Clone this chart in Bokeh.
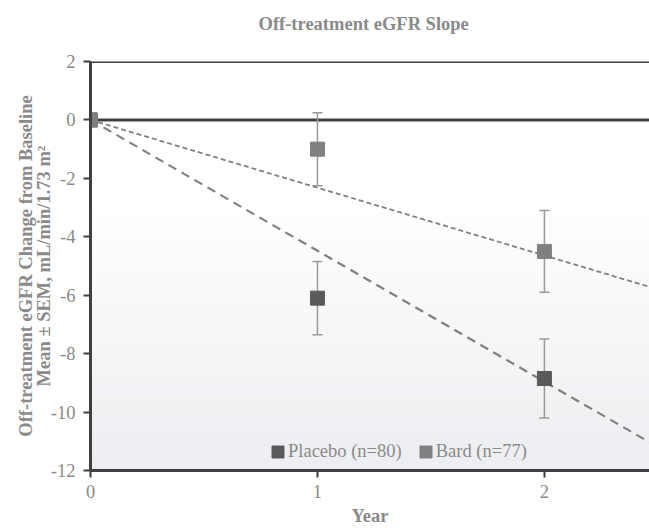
import numpy as np
from bokeh.plotting import figure
from bokeh.models import (ColumnDataSource, Whisker, TeeHead, Span, Title,
                          Legend, LegendItem, Range1d, FixedTicker,
                          PrintfTickFormatter)
from bokeh.embed import file_html
from bokeh.resources import INLINE

# ---- data -------------------------------------------------------------
years = [0, 1, 2]
placebo_mean = [0.0, -6.1, -8.85]
placebo_sem = [0.0, 1.25, 1.35]
bard_mean = [0.0, -1.0, -4.5]
bard_sem = [0.0, 1.25, 1.4]
placebo_slope = -4.48   # eGFR change per year
bard_slope = -2.32
placebo_label = "Placebo (n=80)"
bard_label = "Bard (n=77)"
y_ticks = [2, 0, -2, -4, -6, -8, -10, -12]
x_ticks = [0, 1, 2]

FONT = "Liberation Serif"
FS = "18.5px"
GREY_TXT = "#8a8a8a"
AXIS_DARK = "#404040"
PLACEBO_C = "#5a5a5a"
BARD_C = "#808080"
ERR_C = "#9a9a9a"

x_min, x_max = 0.0, 2.463
y_min, y_max = -12.0, 2.0

p = figure(width=649, height=530, output_backend="svg", toolbar_location=None,
           x_range=Range1d(x_min, x_max), y_range=Range1d(y_min, y_max),
           min_border_left=90, min_border_right=0, min_border_top=61,
           min_border_bottom=60)
p.outline_line_color = None
p.grid.visible = False
p.background_fill_color = "white"
p.border_fill_color = "white"

# soft vertical gradient in the lower part of the plot area
fade_top = -3.0
n_bands = 45
edges = np.linspace(fade_top, y_min, n_bands + 1)
t = np.linspace(0, 1, n_bands)
top_rgb = np.array([255, 255, 255])
bot_rgb = np.array([237, 238, 241])
cols = ["#%02x%02x%02x" % tuple((top_rgb + (bot_rgb - top_rgb) * tt).astype(int)) for tt in t]
p.quad(left=x_min, right=x_max, top=edges[:-1], bottom=edges[1:],
       fill_color=cols, line_color=cols, line_width=1, level="underlay")

# zero reference line and top border
p.add_layout(Span(location=0, dimension="width", line_color=AXIS_DARK,
                  line_width=3, level="underlay"))
p.add_layout(Span(location=y_max, dimension="width", line_color=AXIS_DARK,
                  line_width=3))

# error bars (mean +/- SEM)
def whiskers(mean, sem):
    src = ColumnDataSource(dict(
        x=years[1:],
        upper=[m + s for m, s in zip(mean[1:], sem[1:])],
        lower=[m - s for m, s in zip(mean[1:], sem[1:])]))
    w = Whisker(base="x", upper="upper", lower="lower", source=src,
                line_color=ERR_C, line_width=1.5, level="underlay",
                upper_head=TeeHead(size=10, line_color=ERR_C, line_width=1.5),
                lower_head=TeeHead(size=10, line_color=ERR_C, line_width=1.5))
    p.add_layout(w)

whiskers(placebo_mean, placebo_sem)
whiskers(bard_mean, bard_sem)

# slope lines from baseline
xs_line = np.array([x_min, x_max])
p.line(xs_line, placebo_slope * xs_line, line_color=BARD_C, line_width=2.2,
       line_dash="9 6")
p.line(xs_line, bard_slope * xs_line, line_color=BARD_C, line_width=1.8,
       line_dash="5 3")

# mean markers (fixed-size squares)
r_pl = p.rect(years, placebo_mean, width=14, height=14, width_units="screen",
              height_units="screen", fill_color=PLACEBO_C, line_color=PLACEBO_C)
r_bd = p.rect(years, bard_mean, width=14, height=14, width_units="screen",
              height_units="screen", fill_color=BARD_C, line_color=BARD_C)

legend = Legend(items=[LegendItem(label=placebo_label, renderers=[r_pl]),
                       LegendItem(label=bard_label, renderers=[r_bd])],
                orientation="horizontal", location=(180, 8),
                background_fill_alpha=0, border_line_color=None,
                label_text_font=FONT, label_text_font_size=FS,
                label_text_color=GREY_TXT, glyph_width=15, glyph_height=15,
                label_standoff=3, spacing=16, padding=0, margin=0)
p.add_layout(legend, "center")

# axes
for ax in (p.xaxis[0], p.yaxis[0]):
    ax.axis_line_color = AXIS_DARK
    ax.axis_line_width = 3
    ax.major_tick_line_color = AXIS_DARK
    ax.major_tick_line_width = 2
    ax.major_tick_out = 7
    ax.major_tick_in = 0
    ax.minor_tick_line_color = None
    ax.major_label_text_font = FONT
    ax.major_label_text_font_size = FS
    ax.major_label_text_color = GREY_TXT
    ax.formatter = PrintfTickFormatter(format="%d")

p.yaxis.ticker = FixedTicker(ticks=y_ticks)
p.xaxis.ticker = FixedTicker(ticks=x_ticks)
p.yaxis.major_label_standoff = 8
p.xaxis.major_label_standoff = 7

p.xaxis.axis_label = "Year"
p.xaxis.axis_label_text_font = FONT
p.xaxis.axis_label_text_font_style = "bold"
p.xaxis.axis_label_text_font_size = FS
p.xaxis.axis_label_text_color = GREY_TXT
p.xaxis.axis_label_standoff = 5

# y-axis title: inner line as the axis label, outer line as a side title
p.yaxis.axis_label = "Mean \u00b1 SEM, mL/min/1.73 m\u00b2"
p.yaxis.axis_label_text_font = FONT
p.yaxis.axis_label_text_font_style = "bold"
p.yaxis.axis_label_text_font_size = FS
p.yaxis.axis_label_text_color = GREY_TXT
p.yaxis.axis_label_standoff = -6

p.add_layout(Title(text="Off-treatment eGFR Change from Baseline", align="center",
                   text_font=FONT, text_font_style="bold", text_font_size=FS,
                   text_color=GREY_TXT, standoff=-10), "left")

# chart title, lifted above the plot area by a blank spacer row
p.add_layout(Title(text=" ", text_font=FONT, text_font_size=FS, standoff=6), "above")
p.add_layout(Title(text="Off-treatment eGFR Slope", align="left",
                   text_font=FONT, text_font_style="bold",
                   text_font_size=FS, text_color=GREY_TXT,
                   standoff=0, offset=168), "above")

open("out.html", "w").write(file_html(p, INLINE))
